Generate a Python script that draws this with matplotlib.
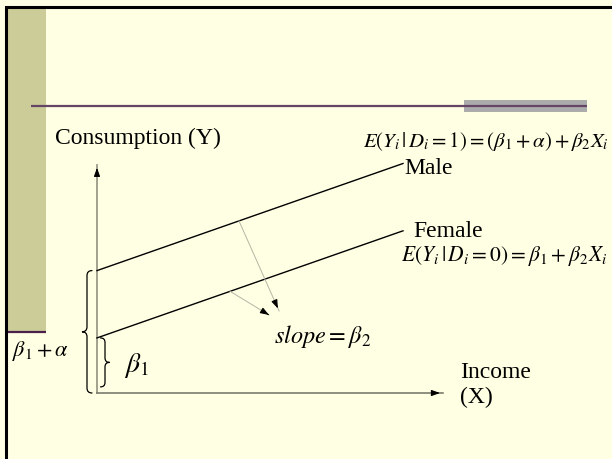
import matplotlib
matplotlib.use("Agg")
import matplotlib.pyplot as plt
from matplotlib.path import Path
from matplotlib.patches import PathPatch, Rectangle
import numpy as np

# Dummy-variable model: Consumption = beta1 + alpha*D + beta2*Income
income = np.array([0.0, 10.0])
beta1 = 1.8
alpha = 2.2
beta2 = 0.35
x_axis_len = 11.3
y_axis_len = 7.45
pointer_from_x = [4.64, 4.35]          # where the slope pointers leave Male / Female
pointer_to = [(5.95, 2.68), (5.62, 2.55)]

y_label = "Consumption (Y)"
x_label = "Income\n(X)"
group_names = ["Male", "Female"]
eq_male = r"$E(Y_i\,|\,D_i=1)=(\beta_1+\alpha)+\beta_2X_i$"
eq_female = r"$E(Y_i\,|\,D_i=0)=\beta_1+\beta_2X_i$"
slope_text = r"$slope=\beta_2$"
brace_big_text = r"$\beta_1+\alpha$"
brace_small_text = r"$\beta_1$"

BG = "#FFFFE3"
OLIVE = "#CCCC99"
PURPLE = "#654565"

plt.rcParams["mathtext.fontset"] = "stix"
SERIF = ["Liberation Serif", "DejaVu Serif"]

# pixel layout: origin of the diagram sits at (97, 393) on a 612x459 slide
S = 30.6
OX, OY = 97, 393


def P(px, py):
    """slide pixel -> diagram units"""
    return ((px - OX) / S, (OY - py) / S)


def brace(ax, xb, y0, y1, r, side, lw=1.0, color="black"):
    """curly brace from y0 to y1; side=-1 points left, +1 points right"""
    ym = (y0 + y1) / 2
    e = xb - side * r
    t = xb + side * r
    verts = [(e, y1), (xb, y1), (xb, y1 - r),
             (xb, ym + r), (xb, ym), (t, ym),
             (xb, ym), (xb, ym - r),
             (xb, y0 + r), (xb, y0), (e, y0)]
    codes = [Path.MOVETO, Path.CURVE3, Path.CURVE3,
             Path.LINETO, Path.CURVE3, Path.CURVE3,
             Path.CURVE3, Path.CURVE3,
             Path.LINETO, Path.CURVE3, Path.CURVE3]
    ax.add_patch(PathPatch(Path(verts, codes), fill=False, lw=lw, color=color,
                           capstyle="round"))


fig = plt.figure(figsize=(6.12, 4.59), dpi=100)
fig.patch.set_facecolor(BG)
ax = fig.add_axes([0, 0, 1, 1])
ax.set_xlim(-OX / S, (612 - OX) / S)
ax.set_ylim(-(459 - OY) / S, OY / S)
ax.axis("off")

# slide decoration
x0, y0 = P(8, 331)
ax.add_patch(Rectangle((x0, y0), 38 / S, 323 / S, color=OLIVE, lw=0))
ax.plot(*zip(P(8, 332), P(46, 332)), color="#4A1F4A", lw=1.6, solid_capstyle="butt")
gx, gy = P(464, 112)
ax.add_patch(Rectangle((gx, gy), 123 / S, 12 / S, color="#ABABAB", lw=0))
ax.plot(*zip(P(31, 106), P(587, 106)), color=PURPLE, lw=1.6, solid_capstyle="butt")
ax.plot(*zip(P(6, 459), P(6, 7), P(612, 7)), color="black", lw=2.2,
        solid_joinstyle="miter", clip_on=False)

# axes of the diagram
ax.plot([0, 0], [0, y_axis_len], color="#9A9A88", lw=1.3)
ax.plot([0, x_axis_len], [0, 0], color="#707064", lw=1.1)
head = dict(arrowstyle="-|>,head_length=0.5,head_width=0.18", color="black", lw=0.8)
ax.annotate("", xy=(0, y_axis_len), xytext=(0, y_axis_len - 0.3), arrowprops=head)
ax.annotate("", xy=(x_axis_len, 0), xytext=(x_axis_len - 0.3, 0), arrowprops=head)

# regression lines
intercepts = [beta1 + alpha, beta1]
for b0 in intercepts:
    ax.plot(income, b0 + beta2 * income, color="black", lw=1.0)

# slope pointers
for (xs, b0, (xe, ye)) in zip(pointer_from_x, intercepts, pointer_to):
    ys = b0 + beta2 * xs
    ax.plot([xs, xe], [ys, ye], color="#B5B5A5", lw=0.7)
    dx, dy = xe - xs, ye - ys
    ax.annotate("", xy=(xe, ye), xytext=(xe - 0.08 * dx, ye - 0.08 * dy),
                arrowprops=head)

# braces
brace(ax, -10 / S, 0, beta1 + alpha, 5 / S, -1, lw=0.9)
brace(ax, 8 / S, 0.2, beta1, 4.5 / S, +1, lw=0.9)

# texts
ax.text(*P(55, 144), y_label, family=SERIF, fontsize=17, va="baseline")
ax.text(*P(404, 174), group_names[0], family=SERIF, fontsize=17, va="baseline")
ax.text(*P(413, 237), group_names[1], family=SERIF, fontsize=17, va="baseline")
ax.text(*P(460, 403), x_label, family=SERIF, fontsize=17, va="baseline",
        linespacing=1.25)
ax.text(*P(363, 142), eq_male, fontsize=15, va="center")
ax.text(*P(401, 256), eq_female, fontsize=15.5, va="center")
ax.text(*P(274, 337), slope_text, fontsize=17.5, va="center")
ax.text(*P(12, 351), brace_big_text, fontsize=16, va="center")
ax.text(*P(124, 366), brace_small_text, fontsize=20, va="center")

fig.savefig("out.png", dpi=100, facecolor=fig.get_facecolor())
